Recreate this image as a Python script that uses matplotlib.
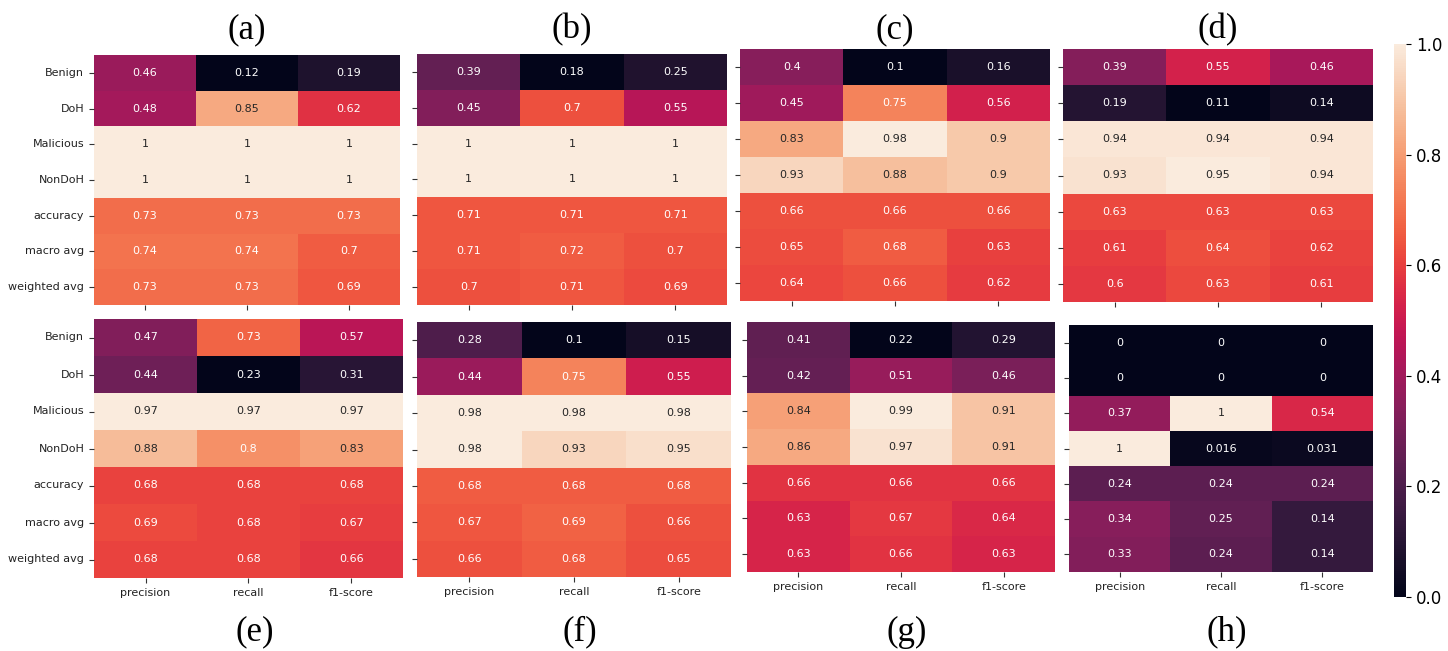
import numpy as np
import matplotlib
matplotlib.use("Agg")
import matplotlib.pyplot as plt
import seaborn as sns

rows = ["Benign", "DoH", "Malicious", "NonDoH", "accuracy", "macro avg", "weighted avg"]
cols = ["precision", "recall", "f1-score"]

rep_a = [[0.46, 0.12, 0.19], [0.48, 0.85, 0.62], [1, 1, 1], [1, 1, 1],
         [0.73, 0.73, 0.73], [0.74, 0.74, 0.7], [0.73, 0.73, 0.69]]
rep_b = [[0.39, 0.18, 0.25], [0.45, 0.7, 0.55], [1, 1, 1], [1, 1, 1],
         [0.71, 0.71, 0.71], [0.71, 0.72, 0.7], [0.7, 0.71, 0.69]]
rep_c = [[0.4, 0.1, 0.16], [0.45, 0.75, 0.56], [0.83, 0.98, 0.9], [0.93, 0.88, 0.9],
         [0.66, 0.66, 0.66], [0.65, 0.68, 0.63], [0.64, 0.66, 0.62]]
rep_d = [[0.39, 0.55, 0.46], [0.19, 0.11, 0.14], [0.94, 0.94, 0.94], [0.93, 0.95, 0.94],
         [0.63, 0.63, 0.63], [0.61, 0.64, 0.62], [0.6, 0.63, 0.61]]
rep_e = [[0.47, 0.73, 0.57], [0.44, 0.23, 0.31], [0.97, 0.97, 0.97], [0.88, 0.8, 0.83],
         [0.68, 0.68, 0.68], [0.69, 0.68, 0.67], [0.68, 0.68, 0.66]]
rep_f = [[0.28, 0.1, 0.15], [0.44, 0.75, 0.55], [0.98, 0.98, 0.98], [0.98, 0.93, 0.95],
         [0.68, 0.68, 0.68], [0.67, 0.69, 0.66], [0.66, 0.68, 0.65]]
rep_g = [[0.41, 0.22, 0.29], [0.42, 0.51, 0.46], [0.84, 0.99, 0.91], [0.86, 0.97, 0.91],
         [0.66, 0.66, 0.66], [0.63, 0.67, 0.64], [0.63, 0.66, 0.63]]
rep_h = [[0, 0, 0], [0, 0, 0], [0.37, 1, 0.54], [1, 0.016, 0.031],
         [0.24, 0.24, 0.24], [0.34, 0.25, 0.14], [0.33, 0.24, 0.14]]

reports = [rep_a, rep_b, rep_c, rep_d, rep_e, rep_f, rep_g, rep_h]
letters = ["(a)", "(b)", "(c)", "(d)", "(e)", "(f)", "(g)", "(h)"]

W, H = 1448, 651
# panel boxes in pixels: left, top, right, bottom
boxes = [(94, 55, 400, 305), (417, 54, 727, 305), (740, 49, 1050, 301), (1063, 49, 1373, 302),
         (94, 319, 403, 578), (417, 322, 731, 577), (747, 322, 1055, 572), (1069, 325, 1373, 572)]


def frac(l, t, r, b):
    return [l / W, 1 - b / H, (r - l) / W, (b - t) / H]


fig = plt.figure(figsize=(W / 100, H / 100), dpi=100)
cmap = sns.color_palette("rocket", as_cmap=True)

for i, (rep, box) in enumerate(zip(reports, boxes)):
    ax = fig.add_axes(frac(*box))
    # each panel scales its own colours from its min to its max
    sns.heatmap(np.array(rep), annot=True, cbar=False, cmap=cmap, ax=ax,
                xticklabels=cols, yticklabels=rows, annot_kws={"fontsize": 8})
    ax.tick_params(axis="both", labelsize=8, colors="#333333", labelcolor="#222222")
    ax.tick_params(axis="y", rotation=0)
    if i < 4:
        ax.set_xticklabels([])
    if i not in (0, 4):
        ax.set_yticklabels([])
    l, t, r, b = box
    cx = (l + r) / 2 / W
    if i < 4:
        fig.text(cx, 1 - 30 / H, letters[i], ha="center", va="center",
                 fontsize=25, family="Liberation Serif")
    else:
        fig.text(cx + 6 / W, 1 - 632 / H, letters[i], ha="center", va="center",
                 fontsize=25, family="Liberation Serif")

# shared colour scale
cax = fig.add_axes(frac(1394, 44, 1406, 597))
sm = matplotlib.cm.ScalarMappable(norm=matplotlib.colors.Normalize(0, 1), cmap=cmap)
cb = fig.colorbar(sm, cax=cax, ticks=[0, 0.2, 0.4, 0.6, 0.8, 1.0])
cb.outline.set_visible(False)
cb.ax.set_yticklabels(["0.0", "0.2", "0.4", "0.6", "0.8", "1.0"], fontsize=12)

fig.savefig("out.png", dpi=100)
